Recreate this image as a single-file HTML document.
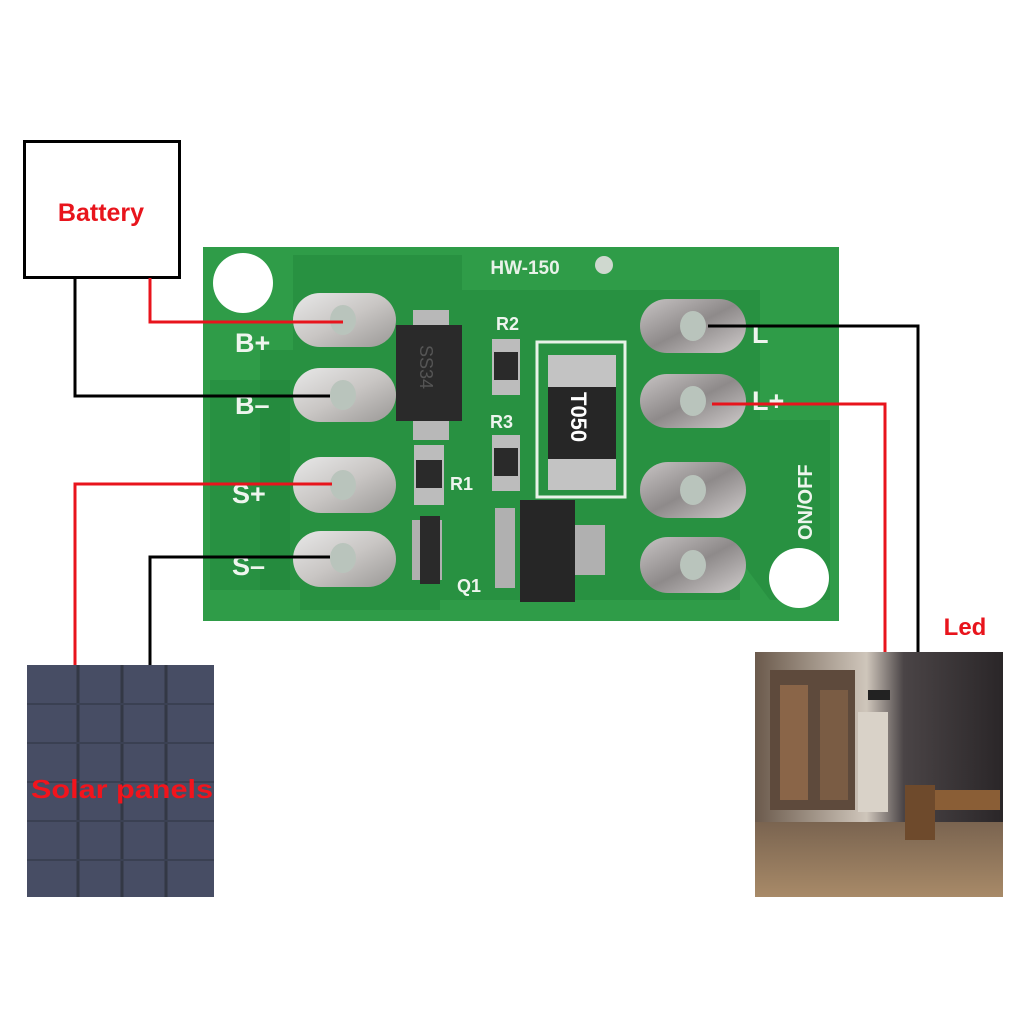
<!DOCTYPE html>
<html><head><meta charset="utf-8"><style>
html,body{margin:0;padding:0;background:#fff;}
svg{display:block;}
</style></head><body>
<svg width="1024" height="1024" viewBox="0 0 1024 1024" xmlns="http://www.w3.org/2000/svg" font-family="Liberation Sans, sans-serif">
<defs>
<linearGradient id="pad" x1="0" y1="0" x2="1" y2="1"><stop offset="0" stop-color="#e8e8e8"/><stop offset="0.5" stop-color="#c9c6c4"/><stop offset="1" stop-color="#9a9896"/></linearGradient>
<linearGradient id="padr" x1="0" y1="0" x2="1" y2="1"><stop offset="0" stop-color="#c8c4c4"/><stop offset="0.5" stop-color="#8e8a8a"/><stop offset="1" stop-color="#d0cccc"/></linearGradient>
<linearGradient id="wall" x1="0" y1="0" x2="1" y2="0"><stop offset="0" stop-color="#6b5a4c"/><stop offset="0.45" stop-color="#cfc6bb"/><stop offset="0.6" stop-color="#4a4446"/><stop offset="1" stop-color="#2a2628"/></linearGradient>
<linearGradient id="floor" x1="0" y1="0" x2="0" y2="1"><stop offset="0" stop-color="#7a6450"/><stop offset="1" stop-color="#a88a68"/></linearGradient>
</defs>
<rect width="1024" height="1024" fill="#fff"/>
<!-- Battery -->
<rect x="24.5" y="141.5" width="155" height="136" fill="#fff" stroke="#000" stroke-width="3"/>
<text x="101" y="221" text-anchor="middle" font-size="25" font-weight="bold" fill="#e8141c">Battery</text>
<!-- PCB -->
<rect x="203" y="247" width="636" height="374" fill="#2f9c48"/>
<path d="M293 255 H462 V290 H760 V420 H830 V600 H770 L740 560 V600 H440 V610 H300 V590 H260 V350 H293 Z" fill="#258a3e" opacity="0.6"/>
<path d="M210 380 H290 V590 H210 Z" fill="#22853b" opacity="0.5"/>
<circle cx="243" cy="283" r="30" fill="#fff"/>
<circle cx="799" cy="578" r="30" fill="#fff"/>
<circle cx="604" cy="265" r="9" fill="#cfd8cf"/>
<text x="525" y="274" text-anchor="middle" font-size="19" font-weight="bold" fill="#e8f2e8">HW-150</text>
<g font-size="27" font-weight="bold" fill="#eef5ee">
<text x="235" y="352">B+</text><text x="235" y="414">B–</text><text x="232" y="503">S+</text><text x="232" y="575">S–</text>
<text x="752" y="343">L</text><text x="752" y="410">L+</text>
</g>
<text transform="translate(812,540) rotate(-90)" font-size="20" font-weight="bold" fill="#eef5ee">ON/OFF</text>
<g fill="url(#pad)">
<rect x="293" y="293" width="103" height="54" rx="27"/>
<rect x="293" y="368" width="103" height="54" rx="27"/>
<rect x="293" y="457" width="103" height="56" rx="28"/>
<rect x="293" y="531" width="103" height="56" rx="28"/>
</g>
<g fill="url(#padr)">
<rect x="640" y="299" width="106" height="54" rx="27"/>
<rect x="640" y="374" width="106" height="54" rx="27"/>
<rect x="640" y="462" width="106" height="56" rx="28"/>
<rect x="640" y="537" width="106" height="56" rx="28"/>
</g>
<g fill="#b9c4bc">
<ellipse cx="343" cy="320" rx="13" ry="15"/><ellipse cx="343" cy="395" rx="13" ry="15"/><ellipse cx="343" cy="485" rx="13" ry="15"/><ellipse cx="343" cy="558" rx="13" ry="15"/>
<ellipse cx="693" cy="326" rx="13" ry="15"/><ellipse cx="693" cy="401" rx="13" ry="15"/><ellipse cx="693" cy="490" rx="13" ry="15"/><ellipse cx="693" cy="565" rx="13" ry="15"/>
</g>
<!-- components -->
<rect x="413" y="310" width="36" height="130" fill="#b8b8b8"/>
<rect x="396" y="325" width="66" height="96" fill="#2a2a2a"/>
<text transform="translate(420,345) rotate(90)" font-size="18" fill="#555">SS34</text>
<rect x="492" y="339" width="28" height="56" fill="#bcbcbc"/><rect x="494" y="352" width="24" height="28" fill="#2a2a2a"/>
<rect x="492" y="435" width="28" height="56" fill="#bcbcbc"/><rect x="494" y="448" width="24" height="28" fill="#2a2a2a"/>
<rect x="414" y="445" width="30" height="60" fill="#bcbcbc"/><rect x="416" y="460" width="26" height="28" fill="#2a2a2a"/>
<text x="496" y="330" font-size="18" font-weight="bold" fill="#eef5ee">R2</text>
<text x="490" y="428" font-size="18" font-weight="bold" fill="#eef5ee">R3</text>
<text x="450" y="490" font-size="18" font-weight="bold" fill="#eef5ee">R1</text>
<text x="457" y="592" font-size="18" font-weight="bold" fill="#eef5ee">Q1</text>
<rect x="537" y="342" width="88" height="155" fill="none" stroke="#e8f2e8" stroke-width="3"/>
<rect x="548" y="355" width="68" height="135" fill="#c3c3c3"/>
<rect x="548" y="387" width="68" height="72" fill="#262626"/>
<text transform="translate(571,392) rotate(90)" font-size="22" font-weight="bold" fill="#fff">T050</text>
<rect x="412" y="520" width="30" height="60" fill="#b0b0b0"/><rect x="420" y="516" width="20" height="68" fill="#2a2a2a"/>
<rect x="495" y="508" width="20" height="80" fill="#b0b0b0"/>
<rect x="520" y="500" width="55" height="102" fill="#262626"/>
<rect x="575" y="525" width="30" height="50" fill="#b0b0b0"/>
<!-- wires -->
<g fill="none" stroke-width="3">
<polyline points="150,278 150,322 343,322" stroke="#e8141c"/>
<polyline points="75,278 75,396 330,396" stroke="#000"/>
<polyline points="75,665 75,484 332,484" stroke="#e8141c"/>
<polyline points="150,665 150,557 330,557" stroke="#000"/>
<polyline points="708,326 918,326 918,652" stroke="#000"/>
<polyline points="712,404 885,404 885,652" stroke="#e8141c"/>
</g>
<!-- Solar panel -->
<rect x="27" y="665" width="187" height="232" fill="#474d64"/>
<g stroke="#333845" stroke-width="3">
<line x1="78" y1="665" x2="78" y2="897"/><line x1="122" y1="665" x2="122" y2="897"/><line x1="166" y1="665" x2="166" y2="897"/>
</g>
<g stroke="#3a4052" stroke-width="2">
<line x1="27" y1="704" x2="214" y2="704"/><line x1="27" y1="743" x2="214" y2="743"/><line x1="27" y1="782" x2="214" y2="782"/><line x1="27" y1="821" x2="214" y2="821"/><line x1="27" y1="860" x2="214" y2="860"/>
</g>
<text x="122" y="798" text-anchor="middle" font-size="26" font-weight="bold" fill="#f2141c" textLength="182" lengthAdjust="spacingAndGlyphs">Solar panels</text>
<!-- Led -->
<text x="965" y="635" text-anchor="middle" font-size="24" font-weight="bold" fill="#e8141c">Led</text>
<rect x="755" y="652" width="248" height="245" fill="#3a3334"/>
<rect x="755" y="652" width="248" height="170" fill="url(#wall)"/>
<rect x="770" y="670" width="85" height="140" fill="#5e4a3c"/>
<rect x="780" y="685" width="28" height="115" fill="#8a6548"/><rect x="820" y="690" width="28" height="110" fill="#7a5c44"/>
<rect x="858" y="712" width="30" height="100" fill="#d9d2c8"/>
<rect x="868" y="690" width="22" height="10" fill="#222"/>
<polygon points="755,822 1003,822 1003,897 755,897" fill="url(#floor)"/>
<rect x="910" y="790" width="90" height="20" fill="#8a5e36"/>
<rect x="905" y="785" width="30" height="55" fill="#6e4a2c"/>
</svg>
</body></html>
